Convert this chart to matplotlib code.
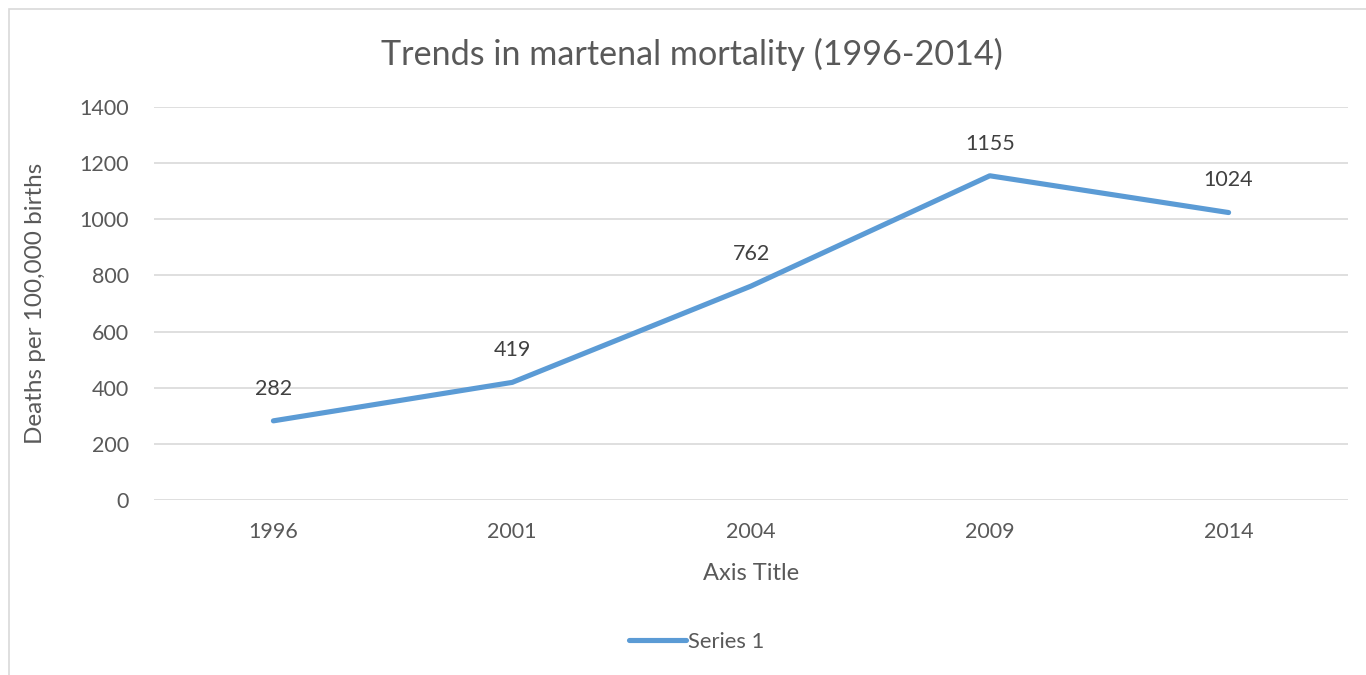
import matplotlib.pyplot as plt
from matplotlib.patches import Rectangle

years = ['1996', '2001', '2004', '2009', '2014']
deaths = [282, 419, 762, 1155, 1024]
y_ticks = [0, 200, 400, 600, 800, 1000, 1200, 1400]

plt.rcParams['font.family'] = ['Lato', 'DejaVu Sans']
grey = '#595959'
blue = '#5B9BD5'

fig = plt.figure(figsize=(13.66, 6.75), dpi=100)
# outer chart border (only top/left visible in the crop)
fig.patches.append(Rectangle((8.5 / 1366, -0.1), 1.2, 1 - 8.5 / 675 + 0.1,
                             transform=fig.transFigure, fill=False,
                             edgecolor='#D9D9D9', linewidth=1.2))

ax = fig.add_axes([154 / 1366, 1 - 500 / 675, 1194 / 1366, 393 / 675])
x = list(range(len(years)))
line, = ax.plot(x, deaths, color=blue, linewidth=3.7,
                solid_capstyle='round', solid_joinstyle='round', label='Series 1')

for xi, v in zip(x, deaths):
    ax.annotate(str(v), (xi, v), xytext=(0, 16), textcoords='offset points',
                ha='center', va='bottom', fontsize=15.5, color='#404040')

ax.set_xlim(-0.5, len(years) - 0.5)
ax.set_ylim(0, 1400)
ax.set_yticks(y_ticks)
ax.set_xticks(x)
ax.set_xticklabels(years)
ax.grid(axis='y', color='#D9D9D9', linewidth=1.2)
ax.set_axisbelow(True)
for s in ax.spines.values():
    s.set_visible(False)
ax.tick_params(length=0, labelsize=15.5, labelcolor=grey)
ax.tick_params(axis='x', pad=16)
ax.tick_params(axis='y', pad=18)

ax.set_xlabel('Axis Title', fontsize=17, color=grey)
ax.xaxis.set_label_coords(0.5, (500 - 563) / 393)
ax.set_ylabel('Deaths per 100,000 births', fontsize=17.5, color=grey)
ax.yaxis.set_label_coords((46 - 154) / 1194, 0.5)
fig.text(692 / 1366, 1 - 54 / 675, 'Trends in martenal mortality (1996-2014)',
         fontsize=24.6, color=grey, ha='center', va='center')

fig.legend(handles=[line], loc='center', bbox_to_anchor=(697 / 1366, 1 - 642 / 675),
           frameon=False, fontsize=15.8, labelcolor=grey, handlelength=2.6,
           handletextpad=0.1)

fig.savefig('out.png', dpi=100)
